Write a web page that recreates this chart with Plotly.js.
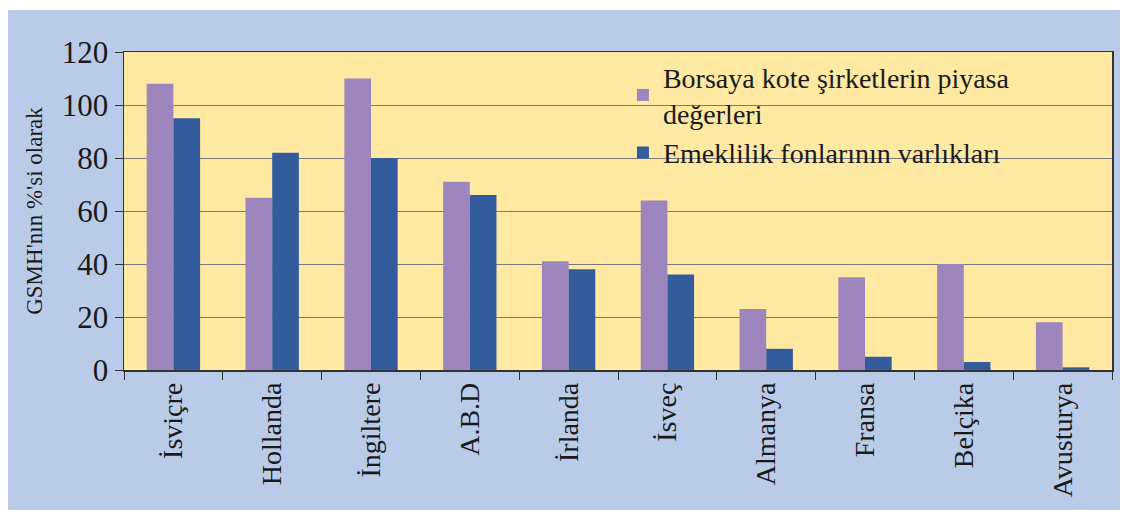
<!DOCTYPE html>
<html>
<head>
<meta charset="utf-8">
<script src="https://cdn.plot.ly/plotly-3.0.1.min.js"></script>
<style>
  html, body { margin: 0; padding: 0; background: #ffffff; }
  #chart { position: absolute; left: 8px; top: 10px; width: 1112px; height: 500px; }
</style>
</head>
<body>
<div id="chart"></div>
<script>
const categories = ["İsviçre", "Hollanda", "İngiltere", "A.B.D", "İrlanda", "İsveç", "Almanya", "Fransa", "Belçika", "Avusturya"];
const piyasaDegerleri = [108, 65, 110, 71, 41, 64, 23, 35, 40, 18];
const emeklilikVarliklari = [95, 82, 80, 66, 38, 36, 8, 5, 3, 1];
const seriesNames = ["Borsaya kote şirketlerin piyasa<br>değerleri", "Emeklilik fonlarının varlıkları"];
const yTitle = "GSMH'nın %'si olarak";

const serif = "'Liberation Serif', 'Times New Roman', 'DejaVu Serif', serif";

const data = [
  { type: "bar", name: seriesNames[0], x: categories, y: piyasaDegerleri,
    marker: { color: "#9d85bd" } },
  { type: "bar", name: seriesNames[1], x: categories, y: emeklilikVarliklari,
    marker: { color: "#335c9c" } }
];

const layout = {
  width: 1112, height: 500,
  paper_bgcolor: "#b9cbe8",
  plot_bgcolor: "#ffe9a3",
  margin: { l: 116, r: 8, t: 42, b: 140 },
  barmode: "group",
  bargap: 0.46,
  bargroupgap: 0,
  showlegend: true,
  legend: {
    x: 0.505, y: 1.0, xanchor: "left", yanchor: "top",
    bgcolor: "rgba(0,0,0,0)",
    font: { family: serif, size: 28, color: "#1a1a1a" },
    tracegroupgap: 0,
    itemwidth: 30
  },
  xaxis: {
    type: "category",
    tickangle: -90,
    tickfont: { family: serif, size: 28, color: "#1a1a1a" },
    showline: true, linecolor: "#333333", linewidth: 1.5, mirror: true,
    ticks: "outside", ticklen: 8, tickcolor: "#333333",
    tickson: "boundaries",
    showgrid: false
  },
  yaxis: {
    range: [0, 120],
    dtick: 20,
    tickfont: { family: serif, size: 31, color: "#1a1a1a" },
    showline: true, linecolor: "#333333", linewidth: 1.5, mirror: true,
    ticks: "outside", ticklen: 8, tickcolor: "#333333",
    gridcolor: "#7a7a7a", gridwidth: 1,
    zeroline: false,
    title: { text: yTitle, font: { family: serif, size: 23, color: "#1a1a1a" }, standoff: 12 }
  }
};

Plotly.newPlot("chart", data, layout, { displayModeBar: false, staticPlot: true });
</script>
</body>
</html>
